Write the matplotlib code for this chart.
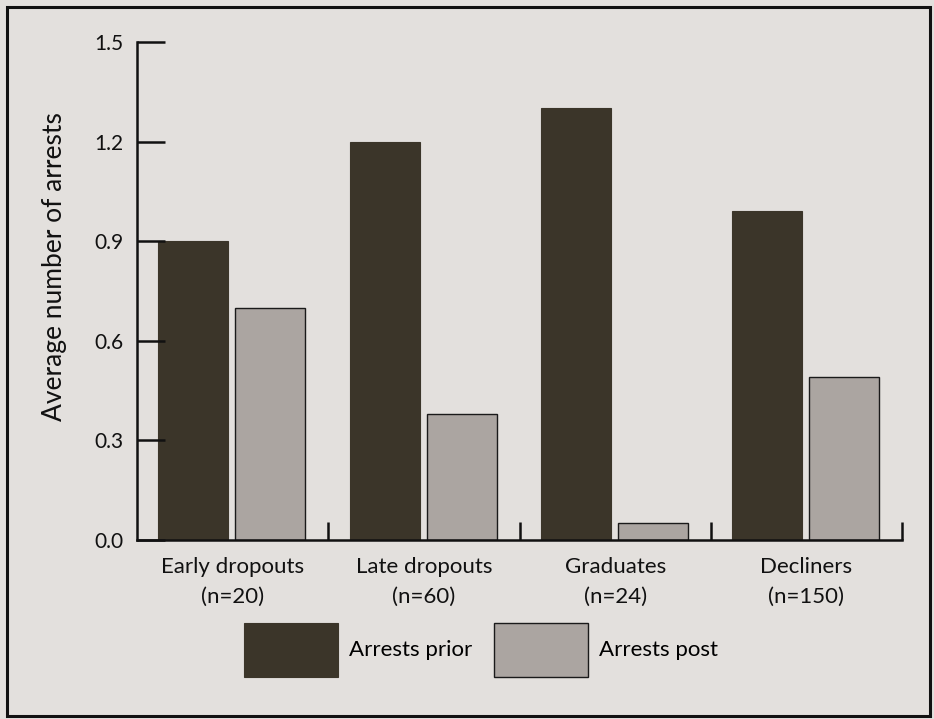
import matplotlib.pyplot as plt
import numpy as np
from matplotlib.patches import Rectangle

# values
groups = ['Early dropouts', 'Late dropouts', 'Graduates', 'Decliners']
sizes = [20, 60, 24, 150]
arrests_prior = [0.90, 1.20, 1.30, 0.99]
arrests_post = [0.70, 0.38, 0.05, 0.49]
yticks = [0.0, 0.3, 0.6, 0.9, 1.2, 1.5]

bg = '#e3e0dd'
dark = '#3b3529'
light = '#aba5a1'

plt.rcParams['font.family'] = ['Lato', 'DejaVu Sans']

fig = plt.figure(figsize=(9.34, 7.19), dpi=100, facecolor=bg)
ax = fig.add_axes([137/934, 1 - 540/719, (902 - 137)/934, (540 - 42)/719])
ax.set_facecolor(bg)

x = np.arange(len(groups)) + 0.5
w = 0.366
b1 = ax.bar(x - 0.205, arrests_prior, w, color=dark, edgecolor=dark, linewidth=0.8,
            label='Arrests prior')
b2 = ax.bar(x + 0.197, arrests_post, w, color=light, edgecolor='#1a1a1a', linewidth=1.0,
            label='Arrests post')

ax.set_xlim(0, len(groups))
ax.set_ylim(0, 1.5)

for s in ['top', 'right']:
    ax.spines[s].set_visible(False)
for s in ['left', 'bottom']:
    ax.spines[s].set_linewidth(1.8)
    ax.spines[s].set_color('#111111')

ax.set_yticks(yticks)
ax.set_yticklabels(['%.1f' % v for v in yticks], fontsize=15, color='#111111')
ax.tick_params(axis='y', direction='in', length=20, width=1.8, pad=10, colors='#111111')

# category labels at group centres, tick marks at group boundaries
ax.set_xticks(x)
ax.set_xticklabels(['%s\n(n=%d)' % (g, n) for g, n in zip(groups, sizes)],
                   fontsize=16, color='#111111', linespacing=1.65)
ax.tick_params(axis='x', which='major', length=0, pad=12)
ax.set_xticks(np.arange(1, len(groups) + 1), minor=True)
ax.tick_params(axis='x', which='minor', direction='in', length=13, width=1.8,
               colors='#111111')

ax.set_ylabel('Average number of arrests', fontsize=19, color='#111111')
ax.yaxis.set_label_coords(-0.091, 0.55)

leg = fig.legend(handles=[b1, b2], loc='center', bbox_to_anchor=(0.515, 1 - 650/719),
                 ncol=2, frameon=False, fontsize=16, handlelength=4.2, handleheight=3.3,
                 columnspacing=1.0, handletextpad=0.5)

# outer frame of the figure box
fig.patches.append(Rectangle((7/934, 1 - 716/719), 923/934, 709/719,
                             transform=fig.transFigure, fill=False,
                             edgecolor='#111111', linewidth=2.2))

plt.savefig('out.png', dpi=100, facecolor=bg)
plt.close()
